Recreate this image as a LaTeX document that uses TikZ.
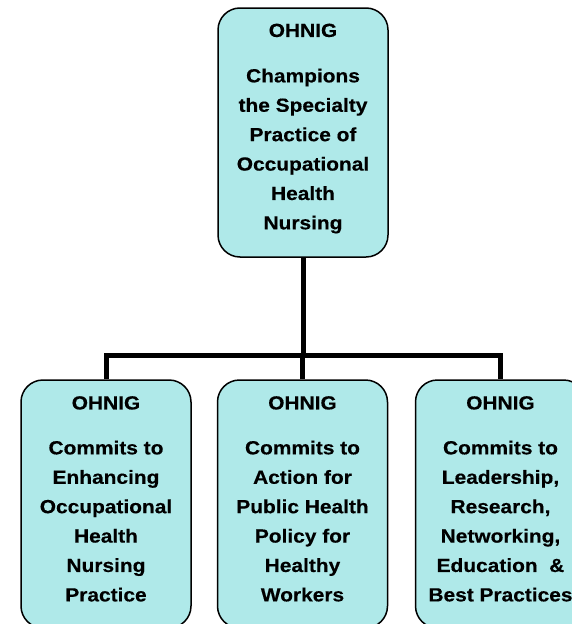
\documentclass[tikz,border=0pt]{standalone}
\usepackage{fontspec}
\setmainfont{Liberation Sans}[FakeStretch=1.1, BoldFeatures={FakeBold=0.4}]
\definecolor{boxfill}{RGB}{175,233,233}
\begin{document}
\begin{tikzpicture}[x=1pt,y=-1pt,
  orgbox/.style={draw=black, line width=1.5pt, fill=boxfill, rounded corners=22pt,
    minimum width=170pt, inner sep=0pt},
  boxtext/.style={anchor=north, inner sep=0pt, align=center,
    font=\fontsize{19}{29.4}\selectfont\bfseries},
  bus/.style={line width=5pt, line join=miter}]
\useasboundingbox (0,0) rectangle (571,624);
\node[orgbox, minimum height=249pt] (top) at (303,132.5) {};
\node[orgbox, minimum height=248pt] (b1) at (106,504) {};
\node[orgbox, minimum height=248pt] (b2) at (302.5,504) {};
\node[orgbox, minimum height=248pt] (b3) at (500.5,504) {};
\node[boxtext] (ttop) at (303,23.5) {OHNIG\\[16pt]Champions\\the Specialty\\Practice of\\Occupational\\Health\\Nursing};
\node[boxtext] (t1) at (106,396) {OHNIG\\[15.5pt]Commits to\\Enhancing\\Occupational\\Health\\Nursing\\Practice};
\node[boxtext] (t2) at (302.5,396) {OHNIG\\[15.5pt]Commits to\\Action for\\Public Health\\Policy for\\Healthy\\Workers};
\node[boxtext] (t3) at (500.5,396) {OHNIG\\[15.5pt]Commits to\\Leadership,\\Research,\\Networking,\\Education~~\&\\Best Practices};
\coordinate (busy) at (303,355);
\draw[bus] (top.south) -- (top.south |- busy);
\draw[bus] (b1.north) -- (b1.north |- busy) -- (b3.north |- busy) -- (b3.north);
\draw[bus] (b2.north) -- (b2.north |- busy);
\end{tikzpicture}
\end{document}
